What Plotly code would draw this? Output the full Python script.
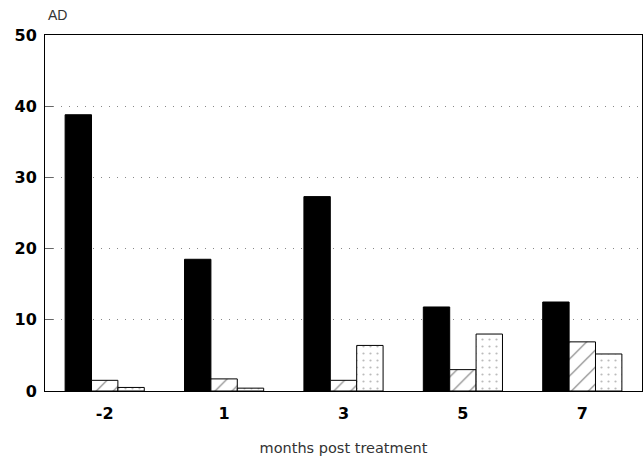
import plotly.graph_objects as go

months = ["-2", "1", "3", "5", "7"]
series_black = [38.8, 18.5, 27.3, 11.8, 12.5]
series_hatched = [1.5, 1.7, 1.5, 3.0, 6.9]
series_dotted = [0.5, 0.4, 6.4, 8.0, 5.2]
y_ticks = [0, 10, 20, 30, 40, 50]

fig = go.Figure()
fig.add_trace(go.Bar(x=months, y=series_black, marker=dict(color="black", line=dict(color="black", width=1))))
fig.add_trace(go.Bar(x=months, y=series_hatched,
                     marker=dict(color="white", line=dict(color="black", width=1),
                                 pattern=dict(shape="/", fgcolor="black", bgcolor="white", size=12, solidity=0.1))))
fig.add_trace(go.Bar(x=months, y=series_dotted,
                     marker=dict(color="white", line=dict(color="black", width=1),
                                 pattern=dict(shape=".", fgcolor="#777777", bgcolor="white", size=7, solidity=0.08))))

tick_font = dict(family="DejaVu Sans, Liberation Sans, sans-serif", size=16, weight="bold", color="black")

fig.update_layout(
    width=643, height=457,
    margin=dict(l=45, r=1, t=35, b=66),
    paper_bgcolor="white", plot_bgcolor="white",
    barmode="group", bargap=0.337, bargroupgap=0,
    showlegend=False,
    font=dict(family="Liberation Sans, Arial, sans-serif", color="black"),
)
fig.update_xaxes(
    showline=True, linecolor="black", linewidth=1, mirror=True,
    showgrid=False, ticks="", range=[-0.5, 4.5],
    tickfont=tick_font, ticklabelstandoff=8,
    title=dict(text="months post treatment",
               font=dict(family="DejaVu Sans, sans-serif", size=14.5, color="#333333"), standoff=20),
)
fig.update_yaxes(
    range=[0, 50], tickvals=y_ticks,
    showline=True, linecolor="black", linewidth=1, mirror=True,
    showgrid=True, gridcolor="#888888", gridwidth=1, griddash="1px,7px",
    ticks="inside", ticklen=8, tickcolor="#666666",
    tickfont=tick_font, ticklabelstandoff=4,
    zeroline=False,
)
fig.add_annotation(text="AD", xref="paper", yref="paper", x=0, y=1, xanchor="left", yanchor="middle",
                   xshift=1, yshift=20, showarrow=False, font=dict(size=14, color="#333333"))

fig.write_html("out.html", config={"displayModeBar": False},
               post_script="document.body.style.margin='0';document.body.style.overflow='hidden';")
